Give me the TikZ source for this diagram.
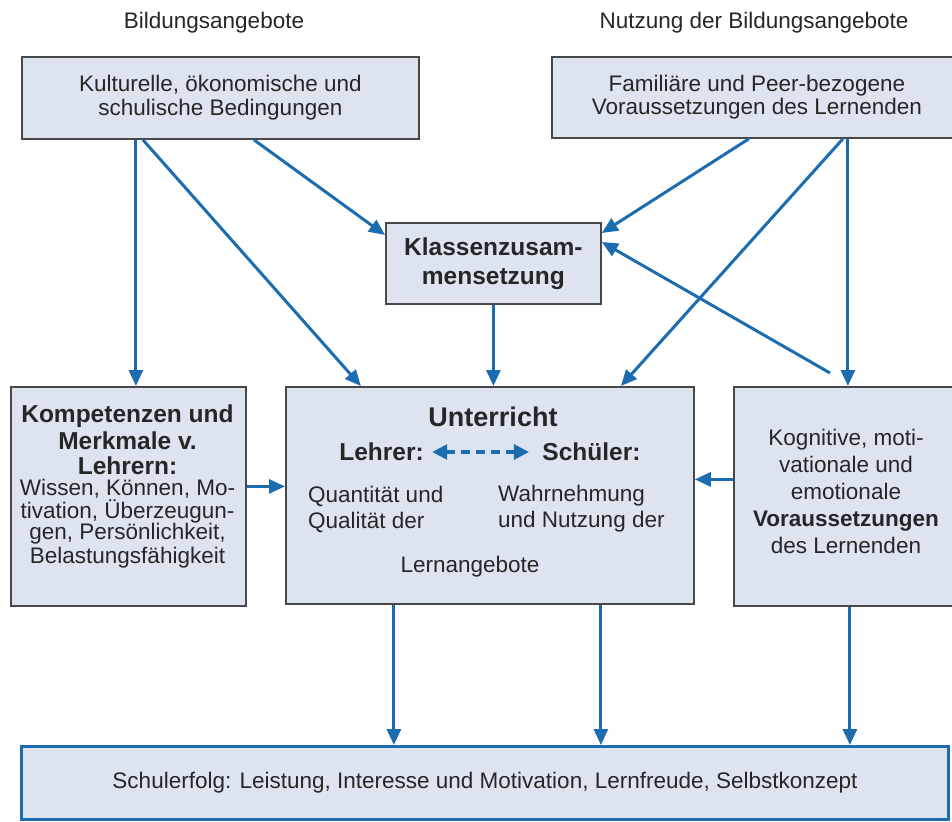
\documentclass[tikz,border=0pt]{standalone}
\usepackage{fontspec}
\setmainfont{Liberation Sans}
\usetikzlibrary{arrows.meta,calc,positioning}
\definecolor{pfeilblau}{RGB}{28,108,176}
\definecolor{kastenblau}{RGB}{221,228,240}
\definecolor{randgrau}{RGB}{72,72,72}
\definecolor{textgrau}{RGB}{38,38,38}
\newcommand{\normtxt}{\fontsize{22.5}{23.5}\selectfont}
\newcommand{\boldtxt}{\bfseries\fontsize{24.5}{26}\selectfont}

\begin{document}
\begin{tikzpicture}[x=1pt,y=-1pt,>={Triangle[length=16pt,width=14pt]},text=textgrau]
	\tikzstyle{box} = [draw=randgrau,line width=1.8pt,fill=kastenblau,rectangle,anchor=north west,inner sep=0pt,align=center,font=\normtxt]
	\tikzstyle{pfeil} = [->,draw=pfeilblau,line width=3pt]
	\useasboundingbox (0,0) rectangle (952,821);

	\node[font=\normtxt] (hbild) at (214,23) {Bildungsangebote};
	\node[font=\normtxt] (hnutz) at (754,23) {Nutzung der Bildungsangebote};

	\node[box,minimum width=397pt,minimum height=82pt] (kult) at (21,56) {Kulturelle, ökonomische und\\schulische Bedingungen};
	\node[box,minimum width=410pt,minimum height=81pt] (fam) at (551,56) {Familiäre und Peer-bezogene\\Voraussetzungen des Lernenden};
	\node[box,minimum width=215pt,minimum height=81pt,font=\bfseries\fontsize{24.5}{29}\selectfont] (klass) at (385,222) {Klassenzusam-\\mensetzung};
	\node[box,minimum width=235pt,minimum height=219pt] (komp) at (10,386) {};
	\node[box,minimum width=408pt,minimum height=217pt] (unt) at (285,386) {};
	\node[box,minimum width=226pt,minimum height=219pt,font=\fontsize{22.5}{27}\selectfont] (vor) at (733,386) {};
	\node[box,draw=pfeilblau,line width=3pt,minimum width=927pt,minimum height=73pt] (erfolg) at (20,745) {Schulerfolg: Leistung, Interesse und Motivation, Lernfreude, Selbstkonzept};

	% Kompetenzen
	\node[font=\normtxt,align=center] (komptext) at (127.5,486) {{\boldtxt Kompetenzen und}\\[3.5pt]{\boldtxt Merkmale v.}\\[1.5pt]{\boldtxt Lehrern:}\\[-2.5pt]Wissen, Können, Mo-\\tivation, Überzeugun-\\[-2.5pt]gen, Persönlichkeit,\\Belastungsfähigkeit};
	% Voraussetzungen
	\node[font=\fontsize{22.5}{27}\selectfont,align=center] (vortext) at (846,491) {Kognitive, moti-\\vationale und\\emotionale\\{\bfseries Voraussetzungen}\\des Lernenden};
	% Unterricht
	\node[font=\bfseries\fontsize{27}{30}\selectfont] (unttitel) at (493,417) {Unterricht};
	\node[font=\boldtxt] (lehrer) at (381.5,452) {Lehrer:};
	\node[font=\boldtxt] (schueler) at (591.5,452) {Schüler:};
	\node[font=\fontsize{22.5}{26}\selectfont,anchor=west,align=left,inner sep=0pt] (quant) at (308,509) {Quantität und\\Qualität der};
	\node[font=\fontsize{22.5}{26}\selectfont,anchor=west,align=left,inner sep=0pt] (wahr) at (498,509) {Wahrnehmung\\und Nutzung der};
	\node[font=\normtxt] (lern) at (470,567) {Lernangebote};
	\draw[<->,draw=pfeilblau,line width=3.2pt,dash pattern=on 9pt off 6pt,>={Triangle[length=15pt,width=15pt]},shorten <=5pt,shorten >=10pt] (lehrer.east) -- (schueler.west);

	\coordinate (vk) at (830,373);

	\draw[pfeil] ([xshift=-84.5pt]kult.south) -- ([xshift=7.5pt]komp.north);
	\draw[pfeil] ([xshift=-77.5pt]kult.south) -- ([xshift=-129pt]unt.north);
	\draw[pfeil] ([xshift=33.5pt]kult.south) -- ([yshift=-13pt]klass.north west);
	\draw[pfeil] ([xshift=-8pt]fam.south) -- ([yshift=-11pt]klass.north east);
	\draw[pfeil] ([xshift=86pt]fam.south) -- ([xshift=131pt]unt.north);
	\draw[pfeil] ([xshift=91pt]fam.south) -- ([xshift=1pt]vor.north);
	\draw[pfeil] (vk) -- ([yshift=-20pt]klass.north east);
	\draw[pfeil] (klass.south) -- (klass.south |- unt.north);
	\draw[pfeil] ([yshift=10pt]komp.east) -- ([yshift=10pt]komp.east -| unt.west);
	\draw[pfeil] ([yshift=17pt]vor.west) -- ([yshift=17pt]vor.west -| unt.east);
	\draw[pfeil] ([xshift=-96pt]unt.south) -- ([xshift=-96pt]unt.south |- erfolg.north);
	\draw[pfeil] ([xshift=111pt]unt.south) -- ([xshift=111pt]unt.south |- erfolg.north);
	\draw[pfeil] ([xshift=3pt]vor.south) -- ([xshift=3pt]vor.south |- erfolg.north);
\end{tikzpicture}
\end{document}
